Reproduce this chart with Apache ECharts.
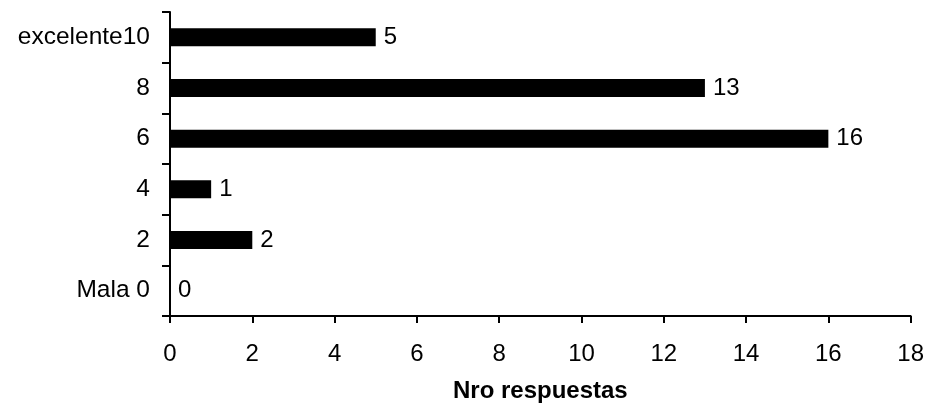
<!DOCTYPE html>
<html>
<head>
<meta charset="utf-8">
<script src="https://cdn.jsdelivr.net/npm/echarts@6/dist/echarts.min.js"></script>
<style>
  html, body { margin: 0; padding: 0; background: #ffffff; }
  #chart { width: 927px; height: 416px; }
</style>
</head>
<body>
<div id="chart"></div>
<script>
// Rating categories, bottom to top
const categories = ['Mala 0', '2', '4', '6', '8', 'excelente10'];
// Number of responses per rating
const responses = [0, 2, 1, 16, 13, 5];
// Value axis ticks
const xMin = 0;
const xMax = 18;
const xStep = 2;

const font = '"Liberation Sans", Arial, sans-serif';
const chart = echarts.init(document.getElementById('chart'));

chart.setOption({
  animation: false,
  backgroundColor: '#ffffff',
  grid: { left: 170, right: 15, top: 12, bottom: 100, containLabel: false },
  xAxis: {
    type: 'value',
    min: xMin,
    max: xMax,
    interval: xStep,
    name: 'Nro respuestas',
    nameLocation: 'middle',
    nameGap: 63,
    nameTextStyle: { fontFamily: font, fontSize: 24, fontWeight: 'bold', color: '#000' },
    axisLine: { show: true, lineStyle: { color: '#000', width: 2 } },
    axisTick: { show: true, length: 7, lineStyle: { color: '#000', width: 2 } },
    axisLabel: { margin: 26, fontFamily: font, fontSize: 24, color: '#000' },
    splitLine: { show: false }
  },
  yAxis: {
    type: 'category',
    data: categories,
    axisLine: { show: true, lineStyle: { color: '#000', width: 2 } },
    axisTick: { show: true, length: 8, lineStyle: { color: '#000', width: 2 } },
    axisLabel: { margin: 20, fontFamily: font, fontSize: 24.5, color: '#000' }
  },
  series: [{
    type: 'bar',
    data: responses,
    barWidth: 18,
    itemStyle: { color: '#000' },
    label: {
      show: true,
      position: 'right',
      distance: 8,
      fontFamily: font,
      fontSize: 24,
      color: '#000'
    }
  }]
});
</script>
</body>
</html>
